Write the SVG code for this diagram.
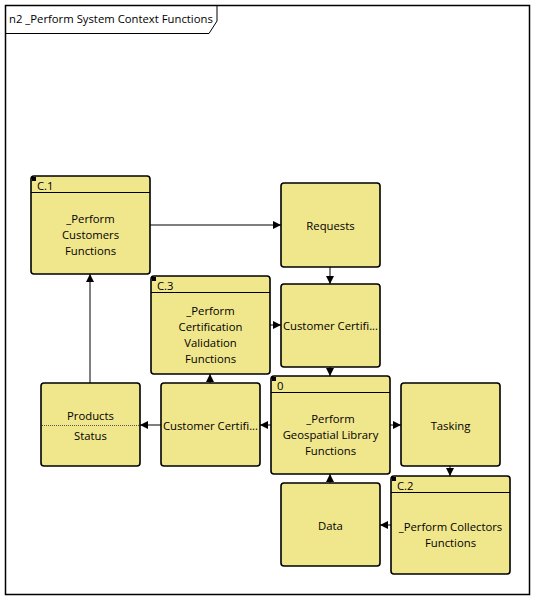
<svg xmlns="http://www.w3.org/2000/svg" width="534" height="599" viewBox="0 0 534 599">
<style>
text{font-family:"Open Sans","Noto Sans","DejaVu Sans",sans-serif;font-size:11.3px;fill:#000}
.c{text-anchor:middle}
.n{fill:#F0E68C;stroke:#000;stroke-width:1.6}
.h{stroke:#000;stroke-width:1}
.k{fill:#000}
.e{stroke:#000;stroke-width:1;fill:none;marker-end:url(#a)}
</style>
<defs>
<marker id="a" viewBox="0 0 8 8" refX="8" refY="4" markerWidth="8" markerHeight="8" markerUnits="userSpaceOnUse" orient="auto">
<path d="M0,0 L8,4 L0,8 z" fill="#000"/>
</marker>
</defs>
<rect x="0" y="0" width="534" height="599" fill="#fff"/>
<g id="frame">
<rect x="5.5" y="5.5" width="524" height="589" fill="none" stroke="#000" stroke-width="1.5"/>
<path d="M5.5,33.5 H209 L217,21 V5.5" fill="none" stroke="#000" stroke-width="1"/>
<text x="9" y="23">n2 _Perform System Context Functions</text>
</g>
<g id="connectors">
<path class="e" d="M150,225 H281"/>
<path class="e" d="M330,267 V284"/>
<path class="e" d="M270,325 H281"/>
<path class="e" d="M330,367 V376"/>
<path class="e" d="M271,425 H260"/>
<path class="e" d="M210,383 V374"/>
<path class="e" d="M161,425 H140"/>
<path class="e" d="M90,383 V274"/>
<path class="e" d="M390,425 H401"/>
<path class="e" d="M450,466 V476"/>
<path class="e" d="M391,525 H380"/>
<path class="e" d="M330,483 V474"/>
</g>
<g id="C1">
<rect class="n" x="31" y="176" width="119" height="98" rx="3"/>
<line class="h" x1="31" y1="192.5" x2="150" y2="192.5"/>
<rect class="k" x="32" y="177" width="4" height="4"/>
<text x="37" y="190">C.1</text>
<text class="c" x="90.5" y="223">_Perform</text>
<text class="c" x="90.5" y="239">Customers</text>
<text class="c" x="90.5" y="255">Functions</text>
</g>
<g id="Requests">
<rect class="n" x="281" y="183" width="99" height="84" rx="3"/>
<text class="c" x="330.5" y="230">Requests</text>
</g>
<g id="C3">
<rect class="n" x="151" y="276" width="119" height="98" rx="3"/>
<line class="h" x1="151" y1="292.5" x2="270" y2="292.5"/>
<rect class="k" x="152" y="277" width="4" height="4"/>
<text x="157" y="290">C.3</text>
<text class="c" x="210.5" y="315">_Perform</text>
<text class="c" x="210.5" y="331">Certification</text>
<text class="c" x="210.5" y="347">Validation</text>
<text class="c" x="210.5" y="363">Functions</text>
</g>
<g id="CustCert1">
<rect class="n" x="281" y="284" width="99" height="83" rx="3"/>
<text class="c" x="330.5" y="330">Customer Certifi...</text>
</g>
<g id="Products">
<rect class="n" x="41" y="383" width="99" height="83" rx="3"/>
<line x1="42" y1="425.5" x2="139" y2="425.5" stroke="#555" stroke-width="1" stroke-dasharray="1,1"/>
<text class="c" x="90.5" y="420">Products</text>
<text class="c" x="90.5" y="440">Status</text>
</g>
<g id="CustCert2">
<rect class="n" x="161" y="383" width="99" height="83" rx="3"/>
<text class="c" x="210.5" y="430">Customer Certifi...</text>
</g>
<g id="N0">
<rect class="n" x="271" y="376" width="119" height="98" rx="3"/>
<line class="h" x1="271" y1="392.5" x2="390" y2="392.5"/>
<rect class="k" x="272" y="377" width="4" height="4"/>
<text x="277" y="390">0</text>
<text class="c" x="330.5" y="423">_Perform</text>
<text class="c" x="330.5" y="439">Geospatial Library</text>
<text class="c" x="330.5" y="455">Functions</text>
</g>
<g id="Tasking">
<rect class="n" x="401" y="383" width="99" height="83" rx="3"/>
<text class="c" x="450.5" y="430">Tasking</text>
</g>
<g id="Data">
<rect class="n" x="281" y="483" width="99" height="83" rx="3"/>
<text class="c" x="330.5" y="530">Data</text>
</g>
<g id="C2">
<rect class="n" x="391" y="476" width="119" height="98" rx="3"/>
<line class="h" x1="391" y1="492.5" x2="510" y2="492.5"/>
<rect class="k" x="392" y="477" width="4" height="4"/>
<text x="397" y="490">C.2</text>
<text class="c" x="450.5" y="531">_Perform Collectors</text>
<text class="c" x="450.5" y="547">Functions</text>
</g>
</svg>
